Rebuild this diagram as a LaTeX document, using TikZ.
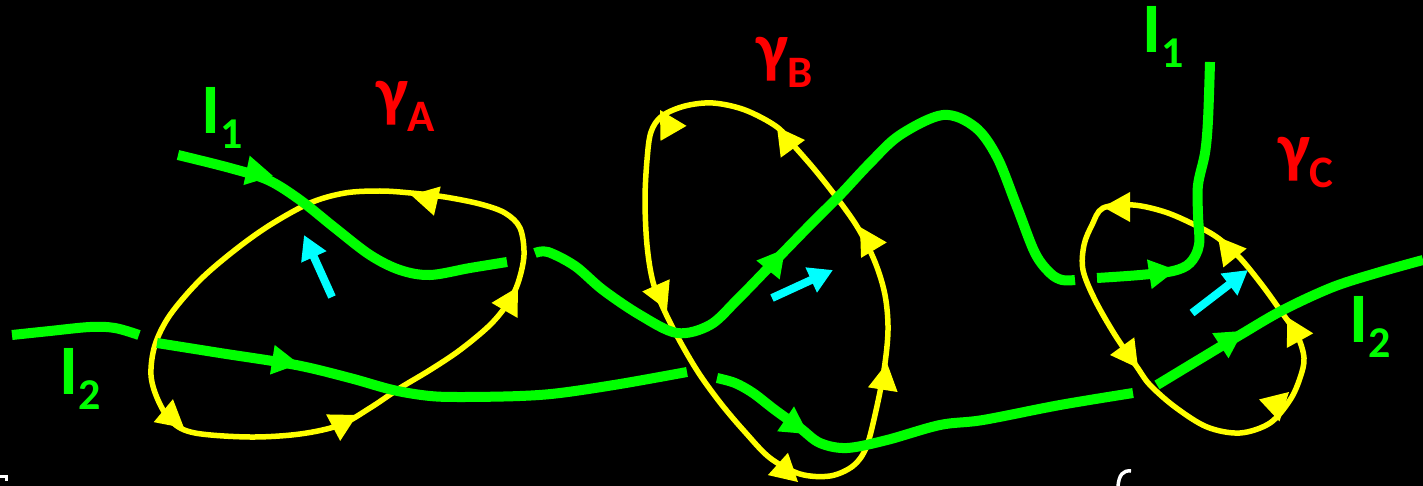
\documentclass[tikz,border=0pt]{standalone}
\usepackage{fontspec}
\setmainfont{Carlito}
\usetikzlibrary{arrows.meta}
\definecolor{lgreen}{RGB}{0,255,0}
\definecolor{lyellow}{RGB}{255,255,0}
\definecolor{lred}{RGB}{255,0,0}
\definecolor{lcyan}{RGB}{0,255,255}
\newcommand\ahead[4]{\fill[#4,shift={(#1,#2)},rotate=#3] (0,0) -- (-27,15) -- (-27,-15) -- cycle;}
\newcommand\lsub[1]{\raisebox{-15pt}{\fontsize{44}{44}\selectfont #1}}
\newcommand\gsub[1]{\raisebox{-17pt}{\fontsize{45}{45}\selectfont #1}}
\tikzset{
  gline/.style={draw=lgreen,line width=10pt,line cap=butt},
  yloop/.style={draw=lyellow,line width=5.5pt,line join=round},
  cyarrow/.style={draw=lcyan,line width=8pt,-{Triangle[length=24pt,width=26pt]}},
  glabel/.style={inner sep=0pt,anchor=base west,text=lgreen,font=\bfseries\fontsize{71}{71}\selectfont},
  rlabel/.style={inner sep=0pt,anchor=base west,text=lred,font=\bfseries\fontsize{68}{68}\selectfont}
}
\begin{document}
\begin{tikzpicture}[x=1pt,y=-1pt]
\useasboundingbox (0,0) rectangle (1423,486);
\fill[black] (0,0) rectangle (1423,486);

% yellow loop A
\draw[yloop] plot[smooth cycle,tension=0.55] coordinates {(411,193) (380,191) (345,193) (310,203) (270,225) (235,250) (200,280) (170,315) (155,345) (151,375) (158,400) (172,422) (195,433) (250,437) (300,434) (340,425) (370,408) (400,388) (430,370) (460,350) (490,325) (508,303) (518,283) (524,255) (520,228) (505,213) (480,204) (445,197)};
\ahead{411}{195}{167}{lyellow}
\ahead{184}{428}{-40}{lyellow}
\ahead{357}{415}{28}{lyellow}
\ahead{518}{287}{60}{lyellow}

% yellow loop B
\draw[yloop] plot[smooth cycle,tension=0.55] coordinates {(777,127) (745,110) (713,103) (685,106) (662,116) (651,132) (647,160) (645,200) (647,245) (653,282) (665,312) (682,345) (700,375) (722,405) (745,432) (770,458) (800,474) (830,476) (853,466) (866,448) (875,415) (884,370) (888,330) (885,295) (875,262) (858,228) (837,198) (815,170) (795,147)};
\ahead{660}{110}{120}{lyellow}
\ahead{777}{127}{126}{lyellow}
\ahead{860}{227}{121}{lyellow}
\ahead{887}{363}{81}{lyellow}
\ahead{667}{310}{-66}{lyellow}
\ahead{798}{482}{-42}{lyellow}

% yellow loop C
\draw[yloop] plot[smooth cycle,tension=0.55] coordinates {(1103,208) (1133,205) (1165,212) (1195,225) (1218,238) (1240,258) (1262,285) (1280,310) (1297,335) (1304,358) (1300,378) (1290,400) (1270,423) (1240,433) (1207,427) (1175,407) (1150,385) (1137,367) (1115,335) (1095,300) (1083,270) (1084,245) (1092,225)};
\ahead{1103}{207}{180}{lyellow}
\ahead{1218}{237}{129}{lyellow}
\ahead{1287}{317}{119}{lyellow}
\ahead{1289}{392}{43}{lyellow}
\ahead{1138}{368}{-54}{lyellow}

% green l1
\draw[gline] plot[smooth,tension=0.55] coordinates {(178,155) (230,168) (268,180) (300,200) (335,228) (370,255) (400,270) (430,275) (470,268) (507,262)};
\draw[gline] plot[smooth,tension=0.55] coordinates {(535,253) (548,252) (575,266) (603,290) (640,315) (677,333) (710,325) (737,300) (773,263) (810,225) (840,195) (870,163) (900,135) (943,115) (975,127) (997,157) (1017,207) (1035,253) (1050,273) (1062,280) (1075,280)};
\draw[gline] plot[smooth,tension=0.55] coordinates {(1097,278) (1140,275) (1173,271) (1190,263) (1199,245) (1198,215) (1198,185) (1205,153) (1208,120) (1210,62)};
\ahead{273}{176}{-12}{lgreen}
\ahead{785}{249}{51}{lgreen}
\ahead{1176}{270}{9}{lgreen}

% green l2
\draw[gline] plot[smooth,tension=0.55] coordinates {(12,335) (50,331) (90,327) (115,328) (139,335)};
\draw[gline] plot[smooth,tension=0.55] coordinates {(157,343) (220,353) (296,365) (350,378) (393,390) (430,396) (464,397) (520,396) (560,393) (620,384) (687,372)};
\draw[gline] plot[smooth,tension=0.55] coordinates {(717,378) (735,383) (753,393) (775,410) (800,428) (820,443) (847,448) (887,440) (940,425) (983,420) (1060,405) (1133,393)};
\draw[gline] plot[smooth,tension=0.55] coordinates {(1157,385) (1195,362) (1240,335) (1283,310) (1333,287) (1380,272) (1423,260)};
\ahead{299}{364}{-9}{lgreen}
\ahead{808}{434}{-34}{lgreen}
\ahead{1243}{331}{33}{lgreen}

% cyan arrows
\coordinate (ca1) at (332,297); \coordinate (ca2) at (304,235);
\coordinate (cb1) at (772,298); \coordinate (cb2) at (833,270);
\coordinate (cc1) at (1192,313); \coordinate (cc2) at (1248,270);
\draw[cyarrow] (ca1) -- (ca2);
\draw[cyarrow] (cb1) -- (cb2);
\draw[cyarrow] (cc1) -- (cc2);

% cut-off white glyph fragments at the bottom edge
\draw[white,line width=3pt] (0,476) -- (6,476) -- (6,481);
\draw[white,line width=3.5pt] (1118,486) .. controls (1119,475) and (1123,470) .. (1131,471);

% labels
\node[glabel] (l1a) at (201,134) {I\lsub{1}};
\node[glabel] (l1b) at (1142,53) {I\lsub{1}};
\node[glabel] (l2a) at (59,394) {I\lsub{2}};
\node[glabel] (l2b) at (1349,342) {I\lsub{2}};
\node[rlabel] (ga) at (376,115) {γ\gsub{A}};
\node[rlabel] (gb) at (756,71) {γ\gsub{B}};
\node[rlabel] (gc) at (1278,171) {γ\gsub{C}};
\end{tikzpicture}
\end{document}
